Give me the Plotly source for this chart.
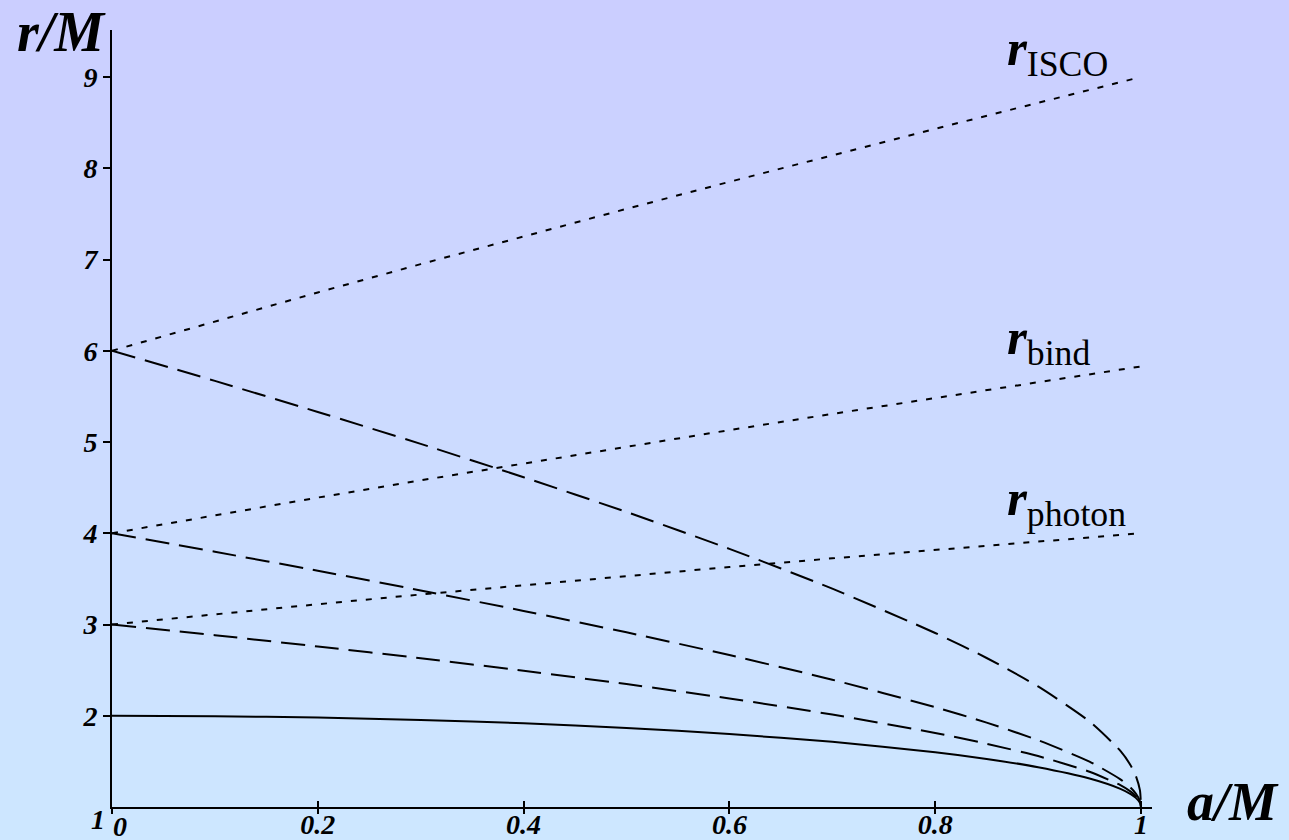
import plotly.graph_objects as go

# Spin parameter a/M at which the radii are sampled
spin = [0.0, 0.1, 0.2, 0.3, 0.4, 0.5, 0.6, 0.7, 0.8, 0.85, 0.9, 0.95, 0.98, 0.99, 0.995, 0.999, 1.0]

# Event horizon (solid)
r_horizon = [2.000, 1.995, 1.980, 1.954, 1.917, 1.866, 1.800, 1.714, 1.600, 1.527,
             1.436, 1.312, 1.199, 1.141, 1.100, 1.045, 1.000]

# Prograde orbits (dashed)
r_isco_pro = [6.000, 5.670, 5.329, 4.979, 4.614, 4.233, 3.829, 3.393, 2.907, 2.633,
              2.321, 1.937, 1.614, 1.455, 1.341, 1.182, 1.000]
r_bind_pro = [4.000, 3.797, 3.589, 3.373, 3.149, 2.914, 2.665, 2.395, 2.094, 1.925,
              1.732, 1.497, 1.303, 1.210, 1.146, 1.064, 1.000]
r_photon_pro = [3.000, 2.883, 2.759, 2.630, 2.493, 2.347, 2.189, 2.013, 1.811, 1.693,
                1.558, 1.387, 1.239, 1.168, 1.117, 1.051, 1.000]

# Retrograde orbits (dotted)
spin_retro = [0.0, 0.1, 0.2, 0.3, 0.4, 0.5, 0.6, 0.7, 0.8, 0.9, 1.0]
r_isco_retro = [6.000, 6.323, 6.639, 6.949, 7.254, 7.555, 7.851, 8.143, 8.432, 8.717, 9.000]
r_bind_retro = [4.000, 4.198, 4.391, 4.580, 4.766, 4.949, 5.130, 5.308, 5.483, 5.657, 5.828]
r_photon_retro = [3.000, 3.113, 3.222, 3.329, 3.432, 3.532, 3.630, 3.725, 3.819, 3.910, 4.000]

x_ticks = [0, 0.2, 0.4, 0.6, 0.8, 1]
x_tick_text = ["", "0.2", "0.4", "0.6", "0.8", "1"]
y_ticks = [2, 3, 4, 5, 6, 7, 8, 9]

FONT = "Liberation Serif"
W, H = 1289, 840
ML, MR, MT, MB = 112, 137, 30, 33

fig = go.Figure()

dash_long = "24px,10px"
dots = "6px,9px"
line_w = 2

fig.add_trace(go.Scatter(x=spin, y=r_horizon, mode="lines",
                         line=dict(color="black", width=line_w, shape="spline", smoothing=0.6)))
for ys in (r_isco_pro, r_bind_pro, r_photon_pro):
    fig.add_trace(go.Scatter(x=spin, y=ys, mode="lines",
                             line=dict(color="black", width=line_w, dash=dash_long,
                                       shape="spline", smoothing=0.6)))
for ys in (r_isco_retro, r_bind_retro, r_photon_retro):
    fig.add_trace(go.Scatter(x=spin_retro, y=ys, mode="lines",
                             line=dict(color="black", width=line_w, dash=dots)))

# helper trace so the overlaid tick axis is drawn
fig.add_trace(go.Scatter(x=[0], y=[1], xaxis="x2", mode="markers",
                         marker=dict(opacity=0), hoverinfo="skip"))

# vertical background gradient
top = (203, 206, 255)
bot = (205, 231, 255)
n_strips = 84
y_lo = -MB / (H - MT - MB)
y_hi = 1 + MT / (H - MT - MB)
x_lo = -ML / (W - ML - MR)
x_hi = 1 + MR / (W - ML - MR)
shapes = []
for i in range(n_strips):
    t = i / (n_strips - 1)
    c = tuple(round(bot[k] + (top[k] - bot[k]) * t) for k in range(3))
    y0 = y_lo + (y_hi - y_lo) * i / n_strips
    y1 = y_lo + (y_hi - y_lo) * (i + 1) / n_strips + 0.002
    shapes.append(dict(type="rect", xref="paper", yref="paper", x0=x_lo, x1=x_hi,
                       y0=y0, y1=y1, fillcolor="rgb(%d,%d,%d)" % c, line=dict(width=0),
                       layer="below"))

tick_font = dict(family=FONT, size=28, color="black", weight="bold", style="italic")
plot_w = W - ML - MR

annotations = [
    dict(text="<b><i>r</i></b><sub>ISCO</sub>", xref="x", yref="y", x=0.868, y=9.27,
         xanchor="left", yanchor="middle", showarrow=False,
         font=dict(family=FONT, size=51, color="black")),
    dict(text="<b><i>r</i></b><sub>bind</sub>", xref="x", yref="y", x=0.868, y=6.107,
         xanchor="left", yanchor="middle", showarrow=False,
         font=dict(family=FONT, size=51, color="black")),
    dict(text="<b><i>r</i></b><sub>photon</sub>", xref="x", yref="y", x=0.868, y=4.342,
         xanchor="left", yanchor="middle", showarrow=False,
         font=dict(family=FONT, size=51, color="black")),
    dict(text="<b><i>r/M</i></b>", xref="paper", yref="y", x=(15 - ML) / plot_w, y=9.49,
         xanchor="left", yanchor="middle", showarrow=False,
         font=dict(family=FONT, size=56, color="black")),
    dict(text="<b><i>a/M</i></b>", xref="paper", yref="y", x=(1281 - ML) / plot_w, y=1.06,
         xanchor="right", yanchor="middle", showarrow=False,
         font=dict(family=FONT, size=54, color="black")),
    dict(text="1", xref="x", yref="y", x=0, y=1, xanchor="right", yanchor="middle",
         xshift=-6, yshift=-12, showarrow=False, font=tick_font,
         height=24, borderpad=0),
    dict(text="0", xref="x", yref="y", x=0, y=1, xanchor="center", yanchor="middle",
         xshift=8, yshift=-19, showarrow=False, font=tick_font,
         height=24, borderpad=0),
]

fig.update_layout(
    width=W, height=H,
    margin=dict(l=ML, r=MR, t=MT, b=MB, pad=0, autoexpand=False),
    paper_bgcolor="rgb(204,218,255)",
    plot_bgcolor="rgba(0,0,0,0)",
    showlegend=False,
    shapes=shapes,
    annotations=annotations,
    xaxis=dict(range=[0, 1.0107], showgrid=False, zeroline=False, automargin=False,
               showline=True, linecolor="black", linewidth=2,
               tickvals=x_ticks, ticktext=x_tick_text, ticks="inside", ticklen=6,
               tickwidth=1.5, tickcolor="black", tickfont=tick_font,
               ticklabelstandoff=-9),
    xaxis2=dict(range=[0, 1.0107], overlaying="x", anchor="y", side="bottom",
                automargin=False, showgrid=False, zeroline=False, showline=False,
                tickvals=x_ticks, ticks="outside", ticklen=6, tickwidth=1.5,
                tickcolor="black", showticklabels=False),
    yaxis=dict(range=[1, 9.515], showgrid=False, zeroline=False, automargin=False,
               showline=True, linecolor="black", linewidth=2,
               tickvals=y_ticks, ticks="outside", ticklen=7, tickwidth=1.5,
               tickcolor="black", tickfont=tick_font),
)

fig.write_html("out.html")
